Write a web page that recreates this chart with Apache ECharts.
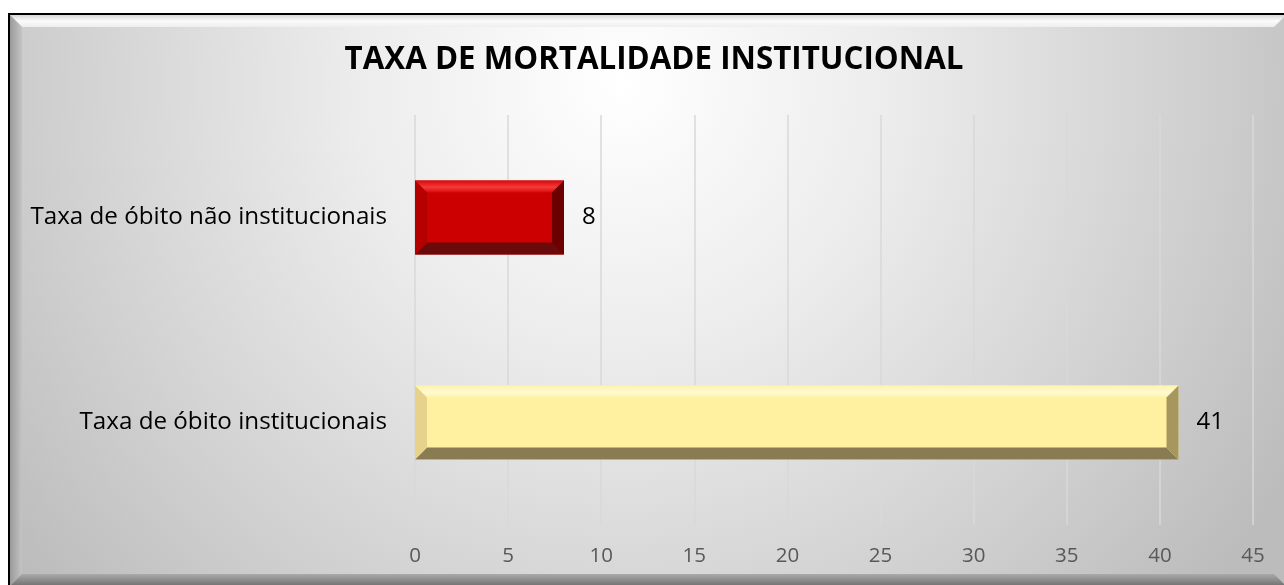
<!DOCTYPE html>
<html>
<head>
<meta charset="utf-8">
<script src="https://cdn.jsdelivr.net/npm/echarts@6/dist/echarts.min.js"></script>
<style>
html,body{margin:0;padding:0;background:#fff;}
#chart{width:1284px;height:585px;}
</style>
</head>
<body>
<div id="chart"></div>
<script>
const categories = ['Taxa de óbito institucionais', 'Taxa de óbito não institucionais'];
const values = [41, 8];
const titleText = 'TAXA DE MORTALIDADE INSTITUCIONAL';
const xTicks = [0, 5, 10, 15, 20, 25, 30, 35, 40, 45];

const FONT = '"Open Sans", Lato, sans-serif';

const palettes = [
  { center: '#FFF1A0', top: ['#FFFBD2', '#FFF2A8'], left: '#E6D28A', right: '#A6975E', bottom: '#8A7C52' },
  { center: '#CC0000', top: ['#F53A3A', '#D80A0A'], left: '#B50000', right: '#6C0000', bottom: '#6A0A0A' }
];

const chart = echarts.init(document.getElementById('chart'), null, { renderer: 'canvas' });

const W = 1284, H = 585;
const fx0 = 10, fy0 = 15, fx1 = W + 2, fy1 = H + 1, fb = 12;

const option = {
  animation: false,
  graphic: [
    { type: 'rect', z: -10, silent: true,
      shape: { x: fx0 - 2, y: fy0 - 2, width: fx1 - fx0 + 4, height: fy1 - fy0 + 4 },
      style: { fill: '#000' } },
    { type: 'rect', z: -9, silent: true,
      shape: { x: fx0, y: fy0, width: fx1 - fx0, height: fy1 - fy0 },
      style: { fill: { type: 'radial', x: 0.48, y: 0.12, r: 1.35,
        colorStops: [ { offset: 0, color: '#ffffff' }, { offset: 0.35, color: '#ececec' }, { offset: 0.75, color: '#cfcfcf' }, { offset: 1, color: '#bcbcbc' } ] } } },
    { type: 'polygon', z: -8, silent: true,
      shape: { points: [[fx0, fy0], [fx1, fy0], [fx1 - fb, fy0 + fb], [fx0 + fb, fy0 + fb]] },
      style: { fill: { type: 'linear', x: 0, y: 0, x2: 0, y2: 1,
        colorStops: [{ offset: 0, color: '#d8d8d8' }, { offset: 0.5, color: '#fbfbfb' }, { offset: 1, color: '#eeeeee' }] } } },
    { type: 'polygon', z: -8, silent: true,
      shape: { points: [[fx0, fy0], [fx0 + fb, fy0 + fb], [fx0 + fb, fy1 - fb], [fx0, fy1]] },
      style: { fill: { type: 'linear', x: 0, y: 0, x2: 1, y2: 0,
        colorStops: [{ offset: 0, color: '#9a9a9a' }, { offset: 1, color: '#c4c4c4' }] } } },
    { type: 'polygon', z: -8, silent: true,
      shape: { points: [[fx0, fy1], [fx0 + fb, fy1 - fb], [fx1 - fb, fy1 - fb], [fx1, fy1]] },
      style: { fill: { type: 'linear', x: 0, y: 0, x2: 0, y2: 1,
        colorStops: [{ offset: 0, color: '#aaaaaa' }, { offset: 1, color: '#707070' }] } } }
  ],
  title: {
    text: titleText,
    left: 649, top: 40, textAlign: 'center',
    textStyle: { fontFamily: FONT, fontWeight: 'bold', fontSize: 31.3, color: '#000' }
  },
  grid: { left: 415, right: 31, top: 115, bottom: 60, containLabel: false },
  xAxis: {
    type: 'value', min: 0, max: 45, interval: 5,
    axisLine: { show: false }, axisTick: { show: false },
    splitLine: { show: true, lineStyle: { color: '#d9d9d9', width: 1.5 } },
    axisLabel: { color: '#595959', fontSize: 20.5, fontFamily: FONT, margin: 21,
      formatter: v => xTicks.indexOf(v) >= 0 ? String(v) : '' }
  },
  yAxis: {
    type: 'category', data: categories,
    axisLine: { show: false }, axisTick: { show: false }, splitLine: { show: false },
    axisLabel: { color: '#000', fontSize: 24.2, fontFamily: FONT, margin: 28 }
  },
  series: [{
    type: 'custom',
    data: values.map((v, i) => [v, i]),
    encode: { x: 0, y: 1 },
    renderItem: function (params, api) {
      const v = api.value(0), c = api.value(1);
      const s = api.coord([0, c]);
      const e = api.coord([v, c]);
      const h = api.size([0, 1])[1] * 0.36;
      const x0 = s[0], x1 = e[0], y0 = s[1] - h / 2, y1 = s[1] + h / 2;
      const b = 12;
      const p = palettes[params.dataIndex];
      return {
        type: 'group',
        children: [
          { type: 'rect', shape: { x: x0, y: y0, width: x1 - x0, height: h }, style: { fill: p.center } },
          { type: 'polygon', shape: { points: [[x0, y0], [x1, y0], [x1 - b, y0 + b], [x0 + b, y0 + b]] },
            style: { fill: { type: 'linear', x: 0, y: 0, x2: 0, y2: 1, colorStops: [{ offset: 0, color: p.top[1] }, { offset: 0.55, color: p.top[0] }, { offset: 1, color: p.top[1] }] } } },
          { type: 'polygon', shape: { points: [[x0, y1], [x1, y1], [x1 - b, y1 - b], [x0 + b, y1 - b]] }, style: { fill: p.bottom } },
          { type: 'polygon', shape: { points: [[x0, y0], [x0 + b, y0 + b], [x0 + b, y1 - b], [x0, y1]] }, style: { fill: p.left } },
          { type: 'polygon', shape: { points: [[x1, y0], [x1 - b, y0 + b], [x1 - b, y1 - b], [x1, y1]] }, style: { fill: p.right } },
          { type: 'text', style: { text: String(v), x: x1 + 18, y: s[1], verticalAlign: 'middle', align: 'left',
            fill: '#000', fontSize: 24, fontFamily: FONT } }
        ]
      };
    }
  }]
};

chart.setOption(option);
</script>
</body>
</html>
